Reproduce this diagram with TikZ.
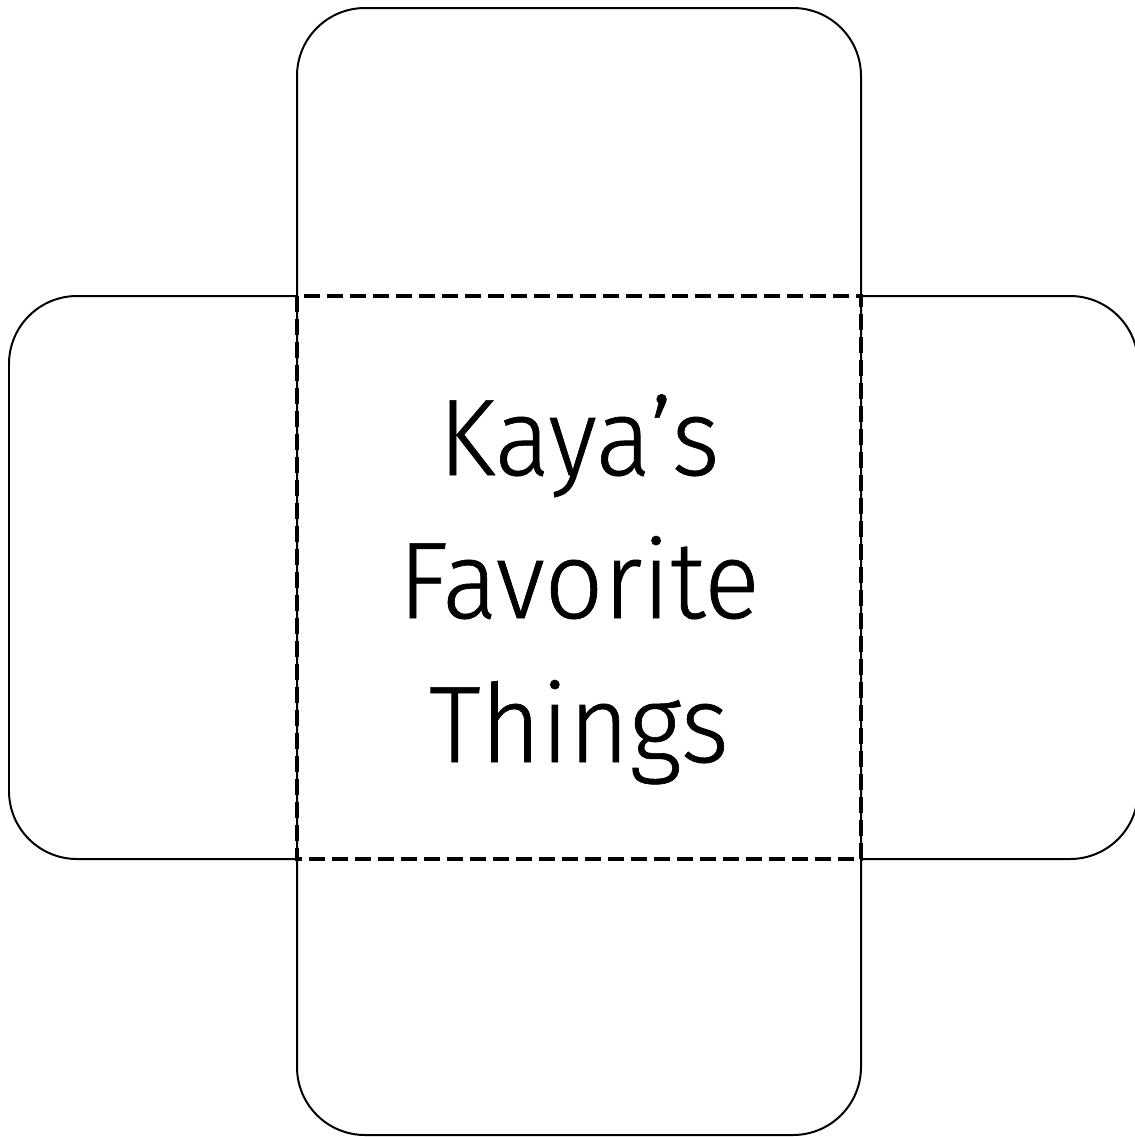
\documentclass[tikz,border=0pt]{standalone}
\usepackage{fontspec}
\setmainfont{Fira Sans}[UprightFont={* Light},FakeBold=0.6,FakeStretch=0.95]
\usepackage{tikz}
\usetikzlibrary{positioning}

\begin{document}
\begin{tikzpicture}[
    x = .02cm,
    y = -.02cm,
    flap/.style = {
      draw=black,
      line width=.04cm,
      rounded corners=1.36cm
    },
    fold/.style = {
      draw=black,
      line width=.065cm,
      dash pattern=on .32cm off .14cm
    },
    title/.style = {
      anchor=base,
      inner sep=0pt,
      font=\fontsize{62}{70}\selectfont
    }
  ]
    \useasboundingbox (0,0) rectangle (1135,1137);

    % top and bottom flaps
    \draw[flap] (297,8) rectangle (861,1135);

    % side flaps
    \draw[flap] (297,296) -- (9,296) -- (9,859) -- (297,859);
    \draw[flap] (861,296) -- (1138,296) -- (1138,859) -- (861,859);

    % fold lines
    \draw[fold] (297,296) rectangle (861,859);

    \node[title] (kaya) at (579,475) {Kaya’s};
    \node[title] (fav) at (579,618) {Favorite};
    \node[title] (things) at (579,762) {Things};

  \end{tikzpicture}
\end{document}
